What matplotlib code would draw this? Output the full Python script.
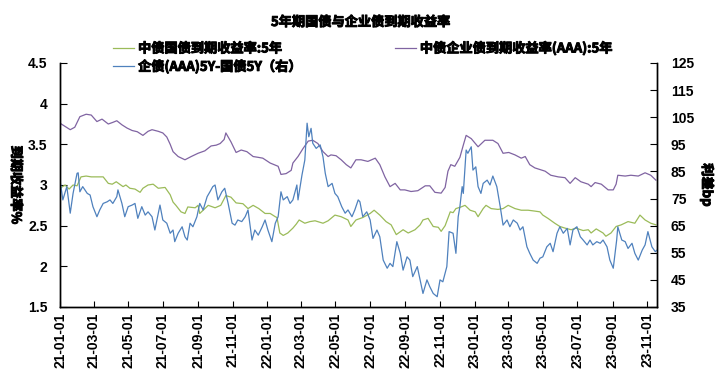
import pandas as pd
import matplotlib
matplotlib.use("Agg")
import matplotlib.pyplot as plt
import matplotlib.patheffects as pe
from matplotlib.ticker import FuncFormatter, MultipleLocator

plt.rcParams['font.family'] = ['Liberation Sans', 'Noto Sans CJK SC', 'DejaVu Sans']
cjk = ['Noto Sans CJK SC', 'DejaVu Sans']

start = pd.Timestamp("2021-01-01")
end_day = 1051  # last trading day shown, days after start

# 中债国债到期收益率:5年 (%), x = days since 2021-01-01
gov_day = [0, 9, 16, 23, 30, 37, 46, 55, 65, 76, 85, 92, 99, 111, 116, 123, 132, 141, 146,
           155, 164, 173, 185, 194, 199, 204, 213, 220, 225, 238, 243, 246, 252, 261, 273,
           283, 292, 301, 310, 322, 331, 340, 350, 361, 370, 379, 382, 387, 393, 401, 410,
           416, 421, 431, 440, 449, 463, 472, 484, 495, 507, 512, 521, 533, 546, 553, 563,
           574, 583, 592, 604, 613, 625, 634, 639, 648, 657, 666, 671, 678, 687, 692, 697,
           706, 713, 722, 731, 736, 745, 750, 759, 771, 780, 789, 801, 812, 824, 835, 845,
           850, 859, 871, 880, 889, 900, 908, 921, 930, 935, 944, 956, 961, 970, 979, 988,
           1000, 1012, 1021, 1030, 1040, 1049]
gov_yield = [2.96, 3.00, 2.95, 3.00, 2.99, 3.10, 3.11, 3.10, 3.10, 3.10, 3.02, 3.01, 3.04,
             2.98, 3.00, 2.96, 2.95, 2.91, 2.96, 3.00, 3.01, 2.96, 2.97, 2.88, 2.79, 2.75,
             2.67, 2.65, 2.73, 2.72, 2.75, 2.65, 2.69, 2.75, 2.72, 2.75, 2.87, 2.85, 2.78,
             2.77, 2.71, 2.75, 2.71, 2.65, 2.65, 2.61, 2.60, 2.41, 2.38, 2.41, 2.47, 2.52,
             2.57, 2.53, 2.55, 2.56, 2.53, 2.56, 2.63, 2.61, 2.57, 2.49, 2.57, 2.60, 2.65,
             2.69, 2.63, 2.55, 2.51, 2.39, 2.45, 2.41, 2.45, 2.51, 2.57, 2.59, 2.49, 2.48,
             2.43, 2.50, 2.67, 2.66, 2.71, 2.73, 2.75, 2.69, 2.67, 2.61, 2.71, 2.75, 2.71,
             2.70, 2.71, 2.75, 2.71, 2.69, 2.69, 2.68, 2.67, 2.63, 2.59, 2.53, 2.49, 2.47,
             2.45, 2.47, 2.44, 2.45, 2.41, 2.46, 2.41, 2.37, 2.41, 2.49, 2.51, 2.55, 2.53,
             2.63, 2.57, 2.53, 2.51]

# 中债企业债到期收益率(AAA):5年 (%)
corp_day = [0, 9, 18, 26, 35, 46, 55, 65, 74, 85, 93, 100, 109, 118, 127, 136, 146, 155,
            162, 173, 181, 188, 194, 199, 208, 220, 231, 243, 255, 266, 275, 282, 289, 292,
            301, 310, 319, 329, 340, 349, 357, 370, 384, 389, 398, 407, 410, 419, 428, 437,
            445, 454, 463, 472, 477, 486, 495, 504, 512, 521, 530, 542, 555, 563, 572, 581,
            590, 599, 607, 618, 630, 643, 651, 660, 671, 678, 683, 688, 695, 704, 710, 715,
            724, 736, 748, 762, 771, 780, 790, 801, 812, 819, 827, 836, 845, 854, 864, 877,
            889, 898, 907, 917, 930, 935, 942, 953, 965, 974, 979, 982, 995, 1005, 1018,
            1030, 1040, 1049]
corp_yield = [3.76, 3.72, 3.68, 3.71, 3.84, 3.87, 3.86, 3.78, 3.81, 3.75, 3.77, 3.79, 3.74,
              3.70, 3.67, 3.655, 3.61, 3.66, 3.68, 3.66, 3.64, 3.59, 3.50, 3.41, 3.35, 3.31,
              3.35, 3.39, 3.42, 3.48, 3.49, 3.51, 3.56, 3.64, 3.53, 3.40, 3.43, 3.41, 3.35,
              3.34, 3.33, 3.27, 3.23, 3.13, 3.14, 3.18, 3.27, 3.35, 3.45, 3.54, 3.55, 3.51,
              3.41, 3.35, 3.37, 3.36, 3.31, 3.25, 3.21, 3.31, 3.31, 3.29, 3.33, 3.25, 3.10,
              2.98, 3.02, 2.94, 2.94, 2.92, 2.93, 2.99, 2.99, 2.91, 2.90, 2.97, 3.17, 3.25,
              3.23, 3.34, 3.49, 3.61, 3.57, 3.47, 3.55, 3.55, 3.51, 3.39, 3.40, 3.37, 3.33,
              3.35, 3.25, 3.21, 3.19, 3.17, 3.12, 3.10, 3.09, 3.02, 3.09, 3.04, 3.01, 2.98,
              3.03, 3.01, 2.94, 2.94, 3.01, 3.12, 3.11, 3.12, 3.11, 3.15, 3.12, 3.06]

# 企债(AAA)5Y-国债5Y (bp, right axis)
spread_day = [0, 5, 12, 18, 23, 30, 32, 35, 40, 48, 53, 58, 65, 70, 76, 83, 88, 93, 100,
              102, 109, 114, 120, 127, 132, 137, 144, 150, 155, 162, 167, 173, 176, 181, 188,
              194, 199, 202, 208, 215, 220, 224, 229, 234, 241, 246, 252, 259, 264, 269, 273,
              278, 285, 290, 296, 303, 308, 313, 320, 326, 331, 338, 343, 349, 356, 361, 366,
              373, 379, 384, 389, 393, 400, 405, 410, 417, 419, 426, 431, 435, 438, 442, 445,
              451, 458, 463, 467, 472, 479, 484, 489, 496, 502, 507, 514, 519, 525, 528, 533,
              540, 546, 551, 558, 563, 569, 576, 581, 586, 593, 599, 604, 611, 616, 621, 629,
              634, 639, 646, 651, 657, 664, 669, 674, 681, 685, 692, 697, 701, 704, 708, 710,
              715, 718, 724, 727, 732, 736, 741, 745, 752, 757, 762, 769, 775, 780, 787, 792,
              798, 805, 810, 815, 822, 827, 833, 840, 845, 850, 857, 863, 868, 875, 880, 886,
              893, 898, 903, 910, 916, 921, 928, 933, 938, 945, 951, 956, 963, 968, 974, 980,
              982, 989, 995, 1000, 1007, 1012, 1018, 1025, 1030, 1035, 1042, 1048, 1051]
spread_bp = [81.8, 74.5, 79.4, 69.6, 76.9, 84.3, 84.5, 77.5, 79.4, 76.9, 76.3, 72.0, 68.3,
             70.8, 73.2, 73.8, 74.5, 73.2, 75.7, 78.2, 73.2, 68.3, 72.0, 72.6, 73.2, 67.7,
             72.0, 68.9, 70.1, 68.3, 63.4, 69.6, 72.6, 67.1, 65.9, 62.2, 63.4, 59.1, 62.2,
             64.6, 60.9, 59.7, 65.9, 64.6, 68.3, 73.2, 70.8, 75.7, 77.5, 79.4, 80.0, 74.5,
             77.5, 78.8, 73.2, 65.9, 65.2, 67.1, 66.5, 68.3, 70.8, 59.7, 63.4, 61.5, 64.6,
             67.1, 63.4, 59.1, 65.9, 68.3, 77.5, 74.5, 75.7, 73.2, 74.5, 80.0, 74.5, 83.7,
             89.2, 102.8, 97.8, 100.9, 95.4, 93.5, 94.8, 90.4, 84.3, 79.4, 80.6, 76.9, 75.7,
             72.0, 69.6, 70.8, 68.3, 70.8, 74.5, 73.8, 68.3, 70.1, 67.1, 60.3, 63.4, 60.9,
             52.3, 49.3, 51.1, 49.9, 59.1, 54.8, 48.6, 53.5, 52.3, 46.2, 49.9, 45.0, 40.0,
             45.0, 42.5, 40.0, 38.8, 45.0, 44.3, 49.9, 62.8, 62.2, 54.8, 68.3, 72.0, 79.4,
             76.9, 92.9, 91.7, 94.1, 85.5, 86.7, 79.4, 76.9, 80.6, 81.8, 80.0, 83.3, 79.4,
             72.0, 65.2, 67.1, 64.6, 67.1, 65.9, 63.4, 64.6, 57.2, 54.8, 52.3, 51.1, 53.0,
             53.5, 57.2, 58.5, 55.4, 62.2, 64.6, 62.2, 64.0, 57.9, 63.4, 64.6, 60.9, 59.7,
             57.9, 59.7, 57.9, 59.1, 58.5, 59.7, 57.2, 52.3, 49.3, 59.7, 64.6, 59.7, 59.1,
             56.6, 58.5, 54.8, 52.3, 56.0, 57.9, 62.8, 57.2, 55.4, 56.0]

left_ticks = [1.5, 2, 2.5, 3, 3.5, 4, 4.5]
right_ticks = [35, 45, 55, 65, 75, 85, 95, 105, 115, 125]

title = "5年期国债与企业债到期收益率"
gov_label = "中债国债到期收益率:5年"
corp_label = "中债企业债到期收益率(AAA):5年"
spread_label = "企债(AAA)5Y-国债5Y（右）"

heavy = [pe.withStroke(linewidth=0.7, foreground='black')]


def to_dates(days):
    return start + pd.to_timedelta(days, unit="D")


fig = plt.figure(figsize=(7.22, 3.78), dpi=100)
ax = fig.add_axes([60 / 722, 1 - 307 / 378, 597 / 722, 244 / 378])
ax2 = ax.twinx()

l_gov, = ax.plot(to_dates(gov_day), gov_yield, color='#9BBB59', lw=0.9)
l_corp, = ax.plot(to_dates(corp_day), corp_yield, color='#8064A2', lw=0.9)
l_spread, = ax2.plot(to_dates(spread_day), spread_bp, color='#4F81BD', lw=0.9)

ax.set_xlim(start, start + pd.Timedelta(days=end_day))
ax.set_ylim(1.5, 4.5)
ax2.set_ylim(35, 125)
ax.set_yticks(left_ticks)
ax2.set_yticks(right_ticks)
ax.yaxis.set_major_formatter(FuncFormatter(lambda v, p: "{:g}".format(v)))

ticks = pd.date_range("2021-01-01", "2023-11-01", freq="2MS")
ax.set_xticks(ticks)
ax.set_xticklabels([t.strftime("%y-%m-%d") for t in ticks], rotation=90, fontweight='bold')

for a in (ax, ax2):
    a.spines['top'].set_visible(False)
    for s in a.spines.values():
        s.set_linewidth(1.0)
ax.tick_params(axis='x', direction='in', length=4, pad=4, labelsize=10)
ax.tick_params(axis='y', direction='in', length=5, pad=9, labelsize=10)
ax2.tick_params(axis='y', direction='in', length=5, pad=10, labelsize=10)
for lab in ax.get_yticklabels() + ax2.get_yticklabels():
    lab.set_fontweight('bold')

fig.text(0.5, 1 - 22 / 378, title, ha='center', va='center', family=cjk,
         fontweight='bold', fontsize=9.5, path_effects=heavy)
fig.text(16 / 722, 1 - 185 / 378, "到期收益率%", rotation=270, ha='center', va='center',
         family=cjk, fontweight='bold', fontsize=9.5, path_effects=heavy)
fig.text(707 / 722, 1 - 185 / 378, "利差bp", rotation=270, ha='center', va='center',
         family=cjk, fontweight='bold', fontsize=9.5, path_effects=heavy)

leg = fig.legend([l_gov, l_spread, l_corp], [gov_label, spread_label, corp_label], ncol=2,
                 loc='upper left', bbox_to_anchor=(113 / 722, 1 - 41 / 378), frameon=False,
                 prop=dict(family=cjk, weight='bold', size=9.5), handlelength=1.6,
                 handletextpad=0.3, columnspacing=7.0, labelspacing=0.3, borderpad=0,
                 borderaxespad=0)
for t in leg.get_texts():
    t.set_path_effects(heavy)

fig.savefig("out.png", dpi=100)
